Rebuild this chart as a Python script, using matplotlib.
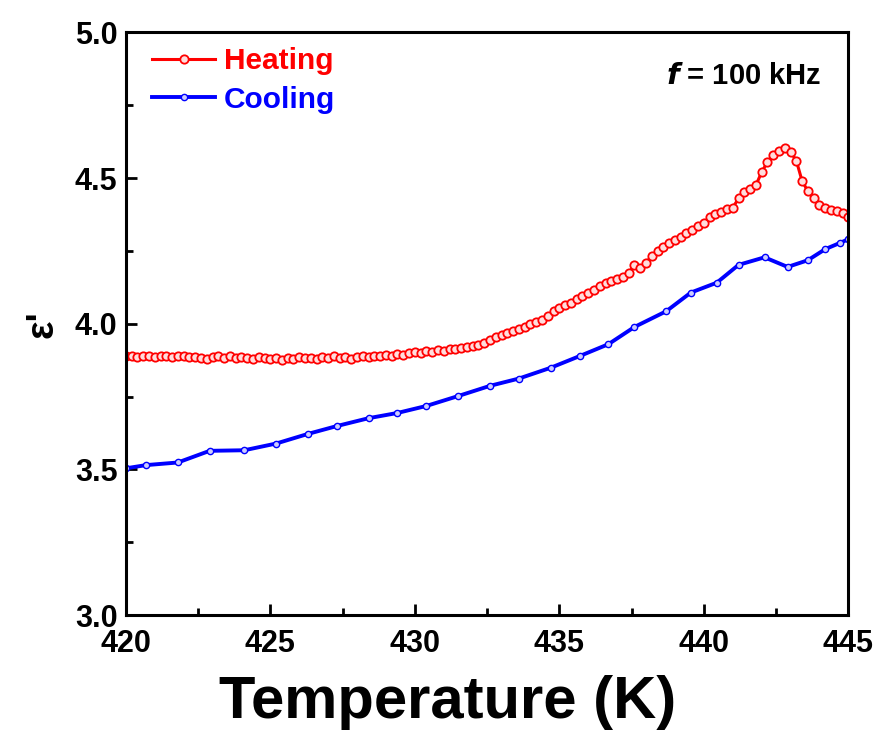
import matplotlib.pyplot as plt
from matplotlib.ticker import MultipleLocator

plt.rcParams['font.family'] = ['Liberation Sans', 'DejaVu Sans']
plt.rcParams['font.weight'] = 'bold'

# heating run (dense)
heat_T = [420.0, 420.2, 420.4, 420.6, 420.8, 421.0, 421.2, 421.4, 421.6, 421.8,
          422.0, 422.2, 422.4, 422.6, 422.8, 423.0, 423.2, 423.4, 423.6, 423.8,
          424.0, 424.2, 424.4, 424.6, 424.8, 425.0, 425.2, 425.4, 425.6, 425.8,
          426.0, 426.2, 426.4, 426.6, 426.8, 427.0, 427.2, 427.4, 427.6, 427.8,
          428.0, 428.2, 428.4, 428.6, 428.8, 429.0, 429.2, 429.4, 429.6, 429.8,
          430.0, 430.2, 430.4, 430.6, 430.8, 431.0, 431.2, 431.4, 431.6, 431.8,
          432.0, 432.2, 432.4, 432.6, 432.8, 433.0, 433.2, 433.4, 433.6, 433.8,
          434.0, 434.2, 434.4, 434.6, 434.8, 435.0, 435.2, 435.4, 435.6, 435.8,
          436.0, 436.2, 436.4, 436.6, 436.8, 437.0, 437.2, 437.4, 437.6, 437.8,
          438.0, 438.2, 438.4, 438.6, 438.8, 439.0, 439.2, 439.4, 439.6, 439.8,
          440.0, 440.2, 440.4, 440.6, 440.8, 441.0, 441.2, 441.4, 441.6, 441.8,
          442.0, 442.2, 442.4, 442.6, 442.8, 443.0, 443.2, 443.4, 443.6, 443.8,
          444.0, 444.2, 444.4, 444.6, 444.8, 445.0]
heat_eps = [3.890, 3.888, 3.886, 3.889, 3.890, 3.887, 3.890, 3.889, 3.887, 3.890,
            3.888, 3.885, 3.887, 3.883, 3.880, 3.885, 3.890, 3.884, 3.888, 3.882,
            3.887, 3.884, 3.880, 3.886, 3.884, 3.879, 3.882, 3.876, 3.883, 3.880,
            3.886, 3.881, 3.884, 3.879, 3.885, 3.883, 3.888, 3.884, 3.886, 3.880,
            3.885, 3.889, 3.886, 3.891, 3.888, 3.892, 3.890, 3.895, 3.893, 3.900,
            3.902, 3.899, 3.905, 3.903, 3.910, 3.908, 3.914, 3.912, 3.918, 3.921,
            3.925, 3.928, 3.934, 3.945, 3.955, 3.962, 3.970, 3.976, 3.983, 3.990,
            3.998, 4.005, 4.013, 4.025, 4.045, 4.055, 4.064, 4.072, 4.085, 4.095,
            4.105, 4.117, 4.128, 4.140, 4.146, 4.152, 4.160, 4.175, 4.200, 4.192,
            4.210, 4.232, 4.248, 4.265, 4.278, 4.288, 4.298, 4.312, 4.322, 4.335,
            4.345, 4.365, 4.378, 4.385, 4.393, 4.398, 4.430, 4.452, 4.462, 4.475,
            4.520, 4.555, 4.580, 4.592, 4.603, 4.590, 4.560, 4.490, 4.455, 4.430,
            4.408, 4.398, 4.392, 4.386, 4.380, 4.368]

# cooling run
cool_T = [420.0, 420.7, 421.8, 422.9, 424.1, 425.2, 426.3, 427.3, 428.4, 429.4,
          430.4, 431.5, 432.6, 433.6, 434.7, 435.7, 436.7, 437.6, 438.7, 439.55,
          440.45, 441.2, 442.1, 442.9, 443.6, 444.2, 444.7, 445.0]
cool_eps = [3.504, 3.515, 3.524, 3.564, 3.566, 3.589, 3.622, 3.649, 3.676, 3.694,
            3.718, 3.752, 3.787, 3.812, 3.849, 3.889, 3.930, 3.989, 4.043, 4.107,
            4.141, 4.202, 4.228, 4.195, 4.218, 4.256, 4.277, 4.290]

fig = plt.figure(figsize=(8.8, 7.35), dpi=100)
ax = fig.add_axes([0.143, 0.163, 0.821, 0.793])

ax.plot(heat_T, heat_eps, color='red', lw=2.2, marker='o', ms=6,
        mfc='#ffdddd', mec='red', mew=1.3, label='Heating')
ax.plot(cool_T, cool_eps, color='blue', lw=2.8, marker='o', ms=4.5,
        mfc='#ccccff', mec='blue', mew=1, label='Cooling')

ax.set_xlim(420, 445)
ax.set_ylim(3.0, 5.0)
ax.xaxis.set_major_locator(MultipleLocator(5))
ax.xaxis.set_minor_locator(MultipleLocator(2.5))
ax.yaxis.set_major_locator(MultipleLocator(0.5))
ax.yaxis.set_minor_locator(MultipleLocator(0.25))
ax.tick_params(which='both', direction='in', width=2, labelsize=22)
ax.tick_params(axis='x', pad=10)
ax.tick_params(axis='y', pad=6)
ax.tick_params(which='major', length=8)
ax.tick_params(which='minor', length=5)
for s in ax.spines.values():
    s.set_linewidth(2.2)

ax.set_xlabel('Temperature (K)', fontsize=43, fontweight='bold')
ax.xaxis.set_label_coords(0.446, -0.102)
ax.set_ylabel("ε'", fontsize=28, fontweight='bold', labelpad=10)

leg = ax.legend(loc='upper left', frameon=False, fontsize=21.5, handlelength=2.1,
                handletextpad=0.3, borderaxespad=0.0, labelspacing=0.35,
                bbox_to_anchor=(0.02, 0.995))
for txt, c in zip(leg.get_texts(), ['red', 'blue']):
    txt.set_color(c)

ax.text(0.963, 0.925, r'$\bfit{f}$ = 100 kHz', transform=ax.transAxes,
        ha='right', va='center', fontsize=21, fontweight='bold')

fig.savefig('out.png', dpi=100)
